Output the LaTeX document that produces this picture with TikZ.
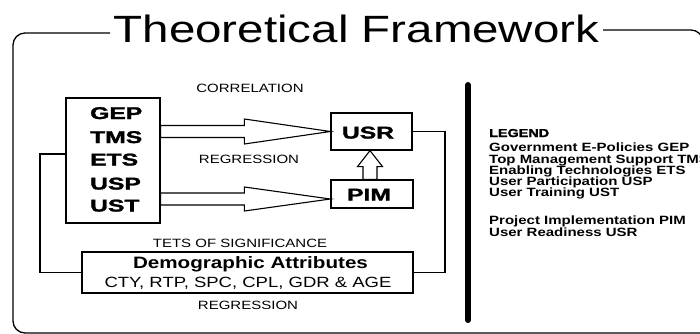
\documentclass[tikz,border=0pt]{standalone}
\usepackage{fontspec}
\setmainfont{Liberation Sans}
\newfontfamily\heavyfont{Liberation Sans}[UprightFont={* Bold},FakeBold=1.5]
\usetikzlibrary{calc}
\newcommand\sx[1]{\scalebox{1.25}[1]{#1}}
\newcommand\hx[1]{\scalebox{1.45}[1]{#1}}
\begin{document}
\begin{tikzpicture}[x=1pt,y=-1pt,
  frame/.style={line width=1.3pt},
  boxshape/.style={draw, line width=1.2pt, inner sep=0},
  conn/.style={line width=1.2pt},
  hollow/.style={draw, fill=white, line width=1.1pt, line join=miter},
  lbl/.style={inner sep=0, anchor=base, font=\fontsize{12}{14}\selectfont},
  vartxt/.style={inner sep=0, anchor=base west, font=\heavyfont\fontsize{17}{20}\selectfont},
  legtxt/.style={inner sep=0, anchor=base west, font=\bfseries\fontsize{12}{14}\selectfont}]
\useasboundingbox (0,0) rectangle (700,333);
\clip (0,0) rectangle (700,333);

% frame and title
\node[inner sep=0, anchor=base, font=\fontsize{38}{44}\selectfont] (title) at (356.5,42) {\sx{Theoretical Framework}};
\draw[frame, rounded corners=12] (110,33) -- (13,33) -- (13,333) -- (710,333);
\draw[frame, rounded corners=12] (603,30) -- (703,30) -- (703,120);

% boxes
\node[boxshape, minimum width=94pt, minimum height=125pt] (vars) at (113,160.5) {};
\node[boxshape, minimum width=81pt, minimum height=37pt] (usr) at (371.5,131.5) {};
\node[boxshape, minimum width=82pt, minimum height=28pt] (pim) at (372,194) {};
\node[boxshape, minimum width=331pt, minimum height=41pt] (demo) at (247.5,272.5) {};

% box texts
\node[vartxt] (gep) at (90,119) {\hx{GEP}};
\node[vartxt] (tms) at (90,143) {\hx{TMS}};
\node[vartxt] (ets) at (90,165.5) {\hx{ETS}};
\node[vartxt] (usp) at (90,189.5) {\hx{USP}};
\node[vartxt] (ust) at (90,211.5) {\hx{UST}};
\node[inner sep=0, anchor=base, font=\heavyfont\fontsize{17}{20}\selectfont] (usrt) at (368,138.5) {\hx{USR}};
\node[inner sep=0, anchor=base, font=\heavyfont\fontsize{17}{20}\selectfont] (pimt) at (369,200.5) {\hx{PIM}};
\node[inner sep=0, anchor=base, font=\bfseries\fontsize{16.5}{19}\selectfont] (demo1) at (250.5,268) {\sx{Demographic Attributes}};
\node[inner sep=0, anchor=base, font=\fontsize{14.8}{17}\selectfont] (demo2) at (248,287) {\sx{CTY, RTP, SPC, CPL, GDR \& AGE}};

% labels
\node[lbl] (corr) at (250,92) {\sx{CORRELATION}};
\node[lbl] (reg1) at (249,163.3) {\sx{REGRESSION}};
\node[lbl] (tets) at (240,247.3) {\sx{TETS OF SIGNIFICANCE}};
\node[lbl] (reg2) at (248,309.3) {\sx{REGRESSION}};

% hollow arrows
\coordinate (t1) at (usr.west);
\coordinate (s1) at (vars.east |- t1);
\draw[hollow] ($(s1)+(0,-6)$) -- ($(t1)+(-86,-6)$) -- ($(t1)+(-86,-12.5)$) -- (t1)
  -- ($(t1)+(-86,12.5)$) -- ($(t1)+(-86,6)$) -- ($(s1)+(0,6)$) -- cycle;
\coordinate (t2) at ($(pim.west)+(0,5)$);
\coordinate (s2) at (vars.east |- t2);
\draw[hollow] ($(s2)+(0,-6)$) -- ($(t2)+(-86,-6)$) -- ($(t2)+(-86,-12)$) -- (t2)
  -- ($(t2)+(-86,12)$) -- ($(t2)+(-86,6)$) -- ($(s2)+(0,6)$) -- cycle;
\coordinate (ub) at ($(pim.north)+(-2,0)$);
\coordinate (ut) at (ub |- usr.south);
\draw[hollow] ($(ub)+(-7,0)$) -- ($(ut)+(-7,16)$) -- ($(ut)+(-12.5,16)$) -- (ut)
  -- ($(ut)+(12.5,16)$) -- ($(ut)+(7,16)$) -- ($(ub)+(7,0)$) -- cycle;

% connectors
\coordinate (lc) at (40,154);
\coordinate (rc) at (445,200);
\draw[conn] (vars.west |- lc) -- (lc) |- (demo.west);
\draw[conn] (usr.east) -| (rc) |- (demo.east);

% legend separator
\coordinate (sepTop) at (468,85);
\coordinate (sepBot) at (468,320);
\draw[line width=6pt, line cap=round] (sepTop) -- (sepBot);

% legend
\node[inner sep=0, anchor=base west, font=\heavyfont\fontsize{11.5}{14}\selectfont] (leg0) at (489,137) {\sx{LEGEND}};
\node[legtxt] (leg1) at (489,151.5) {\sx{Government E-Policies GEP}};
\node[legtxt] (leg2) at (489,163.3) {\sx{Top Management Support TMS}};
\node[legtxt] (leg3) at (489,174.3) {\sx{Enabling Technologies ETS}};
\node[legtxt] (leg4) at (489,185.3) {\sx{User Participation USP}};
\node[legtxt] (leg5) at (489,196.3) {\sx{User Training UST}};
\node[legtxt] (leg6) at (489,224.3) {\sx{Project Implementation PIM}};
\node[legtxt] (leg7) at (489,236) {\sx{User Readiness USR}};
\end{tikzpicture}
\end{document}
